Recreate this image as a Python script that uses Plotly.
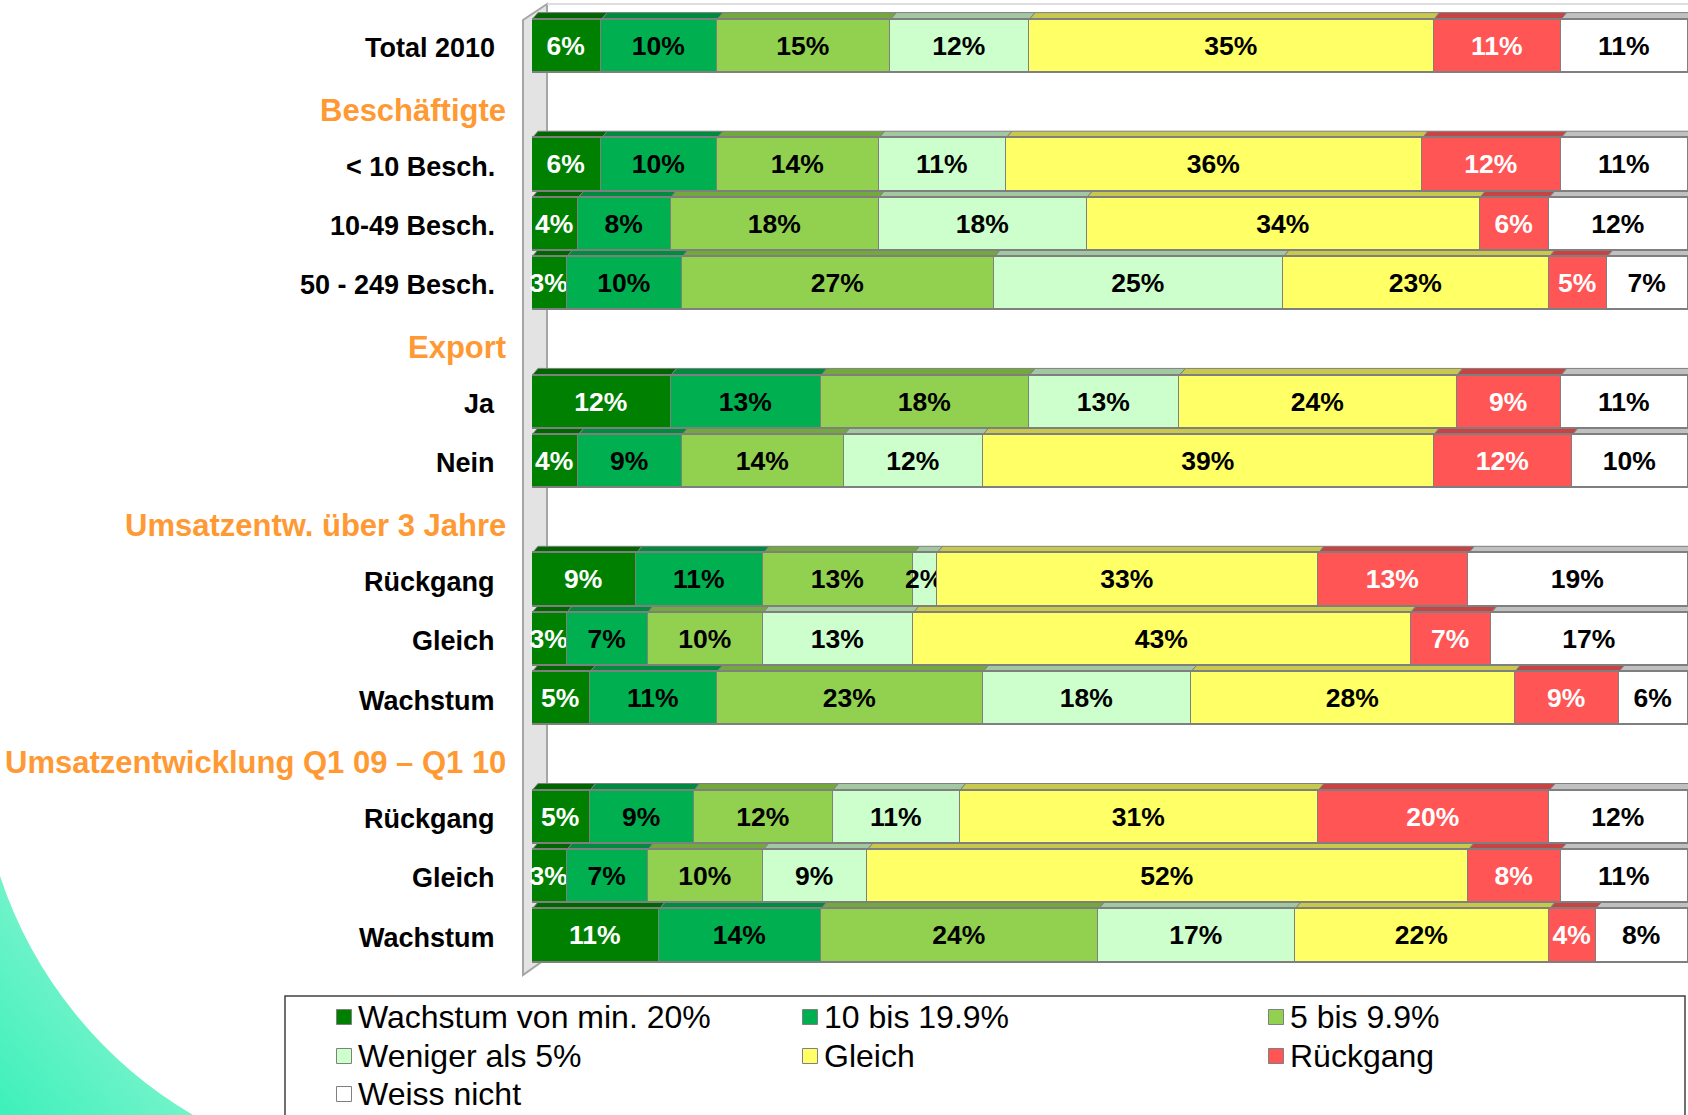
import base64
import plotly.graph_objects as go

W, H = 1688, 1115

# ---------------------------------------------------------------- data
row_labels = [
    "Total 2010",
    "Beschäftigte", "< 10 Besch.", "10-49 Besch.", "50 - 249 Besch.",
    "Export", "Ja", "Nein",
    "Umsatzentw. über 3 Jahre", "Rückgang", "Gleich", "Wachstum",
    "Umsatzentwicklung Q1 09 – Q1 10", "Rückgang", "Gleich", "Wachstum",
]
header_rows = [1, 5, 8, 12]

series_names = ["Wachstum von min. 20%", "10 bis 19.9%", "5 bis 9.9%",
                "Weniger als 5%", "Gleich", "Rückgang", "Weiss nicht"]

wachstum_min_20 = [6, None, 6, 4, 3, None, 12, 4, None, 9, 3, 5, None, 5, 3, 11]
wachstum_10_19 = [10, None, 10, 8, 10, None, 13, 9, None, 11, 7, 11, None, 9, 7, 14]
wachstum_5_9 = [15, None, 14, 18, 27, None, 18, 14, None, 13, 10, 23, None, 12, 10, 24]
weniger_als_5 = [12, None, 11, 18, 25, None, 13, 12, None, 2, 13, 18, None, 11, 9, 17]
gleich = [35, None, 36, 34, 23, None, 24, 39, None, 33, 43, 28, None, 31, 52, 22]
rueckgang = [11, None, 12, 6, 5, None, 9, 12, None, 13, 7, 9, None, 20, 8, 4]
weiss_nicht = [11, None, 11, 12, 7, None, 11, 10, None, 19, 17, 6, None, 12, 11, 8]

series_values = [wachstum_min_20, wachstum_10_19, wachstum_5_9, weniger_als_5,
                 gleich, rueckgang, weiss_nicht]

# ---------------------------------------------------------------- styling
face_colors = ["#008000", "#00B050", "#92D050", "#CCFFCC", "#FFFF66", "#FF5555", "#FFFFFF"]
top_colors = ["#006600", "#008C40", "#72A83C", "#A2C8A2", "#C8C84C", "#C84444", "#C0C0C0"]
label_colors = ["white", "black", "black", "black", "black", "white", "black"]
edge_color = "#7F7F7F"
orange = "#FF9933"

FONT = "Liberation Sans Narrow, Arial Narrow, Liberation Sans, Arial, sans-serif"
SIZE_ROW, SIZE_HEAD, SIZE_BAR, SIZE_LEG = 27, 31, 26.5, 32

# plot area geometry (pixels)
X0_PX, X1_PX = 532, 1688
ROW0_PX, ROW_STEP = 46.3, 59.3
Y_TOP, Y_BOT = -0.75, 15.6          # axis range (reversed)
top_px = ROW0_PX + Y_TOP * ROW_STEP
bot_px = ROW0_PX + Y_BOT * ROW_STEP
BAR_W = 0.9

px_per_x = (X1_PX - X0_PX) / 100.0
px_per_y = ROW_STEP
DEPTH_DX, DEPTH_DY = 6, 7           # 3-D offset of the bar tops, px


def px(xp, yp):
    """pixel -> paper coordinates"""
    return xp / W, 1 - yp / H


fig = go.Figure()

rows = list(range(len(row_labels)))
for name, vals, col, tcol in zip(series_names, series_values, face_colors, label_colors):
    fig.add_trace(go.Bar(
        name=name,
        orientation="h",
        y=rows,
        x=vals,
        width=BAR_W,
        marker=dict(color=col, line=dict(color=edge_color, width=1.5)),
        text=[f"{v}%" if v is not None else "" for v in vals],
        textposition="inside",
        insidetextanchor="middle",
        textangle=0,
        constraintext="none",
        cliponaxis=False,
        textfont=dict(family=FONT, size=SIZE_BAR, color=tcol, weight="bold"),
        insidetextfont=dict(family=FONT, size=SIZE_BAR, color=tcol, weight="bold"),
        hoverinfo="skip",
        showlegend=False,
    ))

shapes = []

# floor / side wall on the left of the bars
fx0, fx1 = 523, 547
floor_pts = [(fx0, 20), (fx1, 4), (fx1, 958), (fx0, 975)]
path = "M " + " L ".join("{:.5f},{:.5f}".format(*px(a, b)) for a, b in floor_pts) + " Z"
shapes.append(dict(type="path", xref="paper", yref="paper", path=path,
                   fillcolor="#E3E3E3", line=dict(color="#A6A6A6", width=2), layer="below"))
# top edge of the back wall
bx0, by0 = px(fx1, 4)
bx1, _ = px(W + 5, 4)
shapes.append(dict(type="line", xref="paper", yref="paper", x0=bx0, y0=by0, x1=bx1, y1=by0,
                   line=dict(color="#D4D4D4", width=1.5), layer="below"))

# 3-D top faces of every bar segment
dx = DEPTH_DX / px_per_x
dy = DEPTH_DY / px_per_y
for r in rows:
    if r in header_rows:
        continue
    start = 0.0
    top = r - BAR_W / 2
    for k, vals in enumerate(series_values):
        v = vals[r]
        end = start + v
        p = (f"M {start},{top} L {start + dx},{top - dy} "
             f"L {end + dx},{top - dy} L {end},{top} Z")
        shapes.append(dict(type="path", xref="x", yref="y", path=p,
                           fillcolor=top_colors[k], line=dict(color=edge_color, width=1),
                           layer="below"))
        start = end

# row labels
annotations = []
for r, lab in enumerate(row_labels):
    is_head = r in header_rows
    annotations.append(dict(
        xref="paper", yref="y", x=(508 if is_head else 497) / W, y=r,
        xanchor="right", yanchor="middle", showarrow=False, text=lab,
        yshift=-5 if is_head else -2,
        font=dict(family=FONT, size=SIZE_HEAD if is_head else SIZE_ROW,
                  color=orange if is_head else "black", weight="bold"),
    ))

# legend box with three columns
lx0, ly0 = px(285, 996)
lx1, ly1 = px(1685, 1130)
shapes.append(dict(type="rect", xref="paper", yref="paper", x0=lx0, y0=ly0, x1=lx1, y1=ly1,
                   fillcolor="white", line=dict(color="#404040", width=1.5), layer="above"))
col_x = [344, 810, 1276]
row_y = [1017, 1056, 1094]
for i, (name, col) in enumerate(zip(series_names, face_colors)):
    cx, cy = col_x[i % 3], row_y[i // 3]
    a0 = px(cx - 7.5, cy - 7.5)
    a1 = px(cx + 7.5, cy + 7.5)
    shapes.append(dict(type="rect", xref="paper", yref="paper",
                       x0=a0[0], y0=a1[1], x1=a1[0], y1=a0[1],
                       fillcolor=col, line=dict(color="#808080", width=1), layer="above"))
    tx, ty = px(cx + 12, cy)
    annotations.append(dict(xref="paper", yref="paper", x=tx, y=ty, xanchor="left",
                            yanchor="middle", showarrow=False, text=name,
                            font=dict(family=FONT, size=SIZE_LEG, color="black")))

# decorative corner swoosh
svg = (
    f'<svg xmlns="http://www.w3.org/2000/svg" width="{W}" height="{H}" '
    f'viewBox="0 0 {W} {H}" preserveAspectRatio="none">'
    '<defs><linearGradient id="g" x1="0" y1="1" x2="0.9" y2="0.1">'
    '<stop offset="0" stop-color="#3DF0BB"/><stop offset="1" stop-color="#9DF6D5"/>'
    '</linearGradient></defs>'
    '<path d="M0,876 A435,435 0 0,0 193,1115 L0,1115 Z" fill="url(#g)"/></svg>'
)
swoosh = "data:image/svg+xml;base64," + base64.b64encode(svg.encode()).decode()

fig.update_layout(
    width=W, height=H,
    margin=dict(l=0, r=0, t=0, b=0),
    barmode="stack",
    bargap=0,
    paper_bgcolor="white",
    plot_bgcolor="rgba(0,0,0,0)",
    showlegend=False,
    xaxis=dict(domain=[X0_PX / W, X1_PX / W], range=[0, 100], visible=False, fixedrange=True),
    yaxis=dict(domain=[1 - bot_px / H, 1 - top_px / H], range=[Y_BOT, Y_TOP],
               visible=False, fixedrange=True),
    shapes=shapes,
    annotations=annotations,
    images=[dict(source=swoosh, xref="paper", yref="paper", x=0, y=1, sizex=1, sizey=1,
                 xanchor="left", yanchor="top", sizing="stretch", layer="below")],
)

fig.write_html("out.html")
